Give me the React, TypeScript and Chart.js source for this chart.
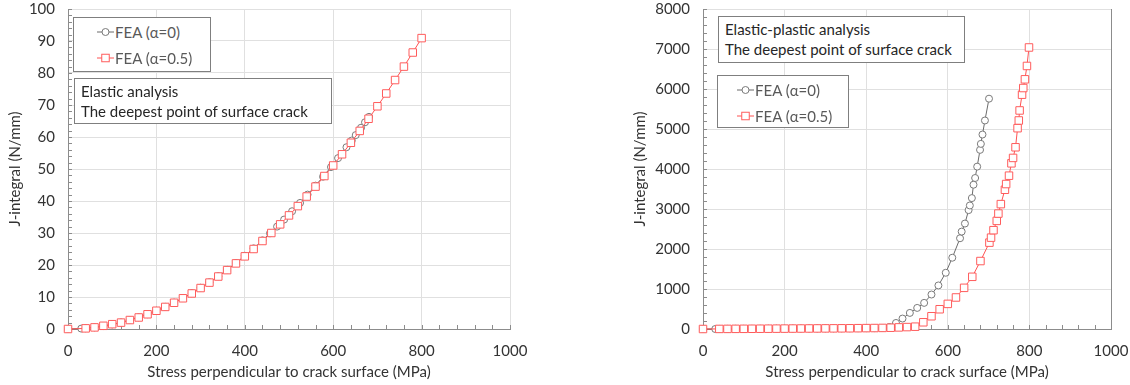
import React, { useEffect, useRef } from "react";
import { Chart, registerables } from "chart.js";

Chart.register(...registerables);

// ---------- Data ----------
// Left chart: Elastic analysis
const elasticA0Stress = [0, 30, 40, 60, 80, 100, 120, 140, 160, 180, 200, 220, 240, 260, 280, 300, 320, 340, 360, 380, 400, 420, 440, 457, 473, 489, 507, 525, 542, 560, 577, 595, 611, 630, 642, 651, 663, 672, 681];
const elasticA0J = [0, 0.13, 0.23, 0.51, 0.92, 1.43, 2.06, 2.8, 3.66, 4.63, 5.72, 6.92, 8.24, 9.67, 11.2, 12.9, 14.6, 16.5, 18.5, 20.6, 22.9, 25.2, 27.7, 29.9, 32.0, 34.2, 36.8, 39.4, 42.0, 44.8, 47.6, 50.6, 53.4, 56.8, 58.9, 60.6, 62.9, 64.6, 66.3];
const elasticA05Stress = [0, 40, 60, 80, 100, 120, 140, 160, 180, 200, 220, 240, 260, 280, 300, 320, 340, 360, 380, 400, 420, 440, 460, 480, 500, 520, 540, 560, 580, 600, 620, 640, 660, 680, 700, 720, 740, 760, 780, 800];
const elasticA05J = [0, 0.2, 0.5, 1.0, 1.5, 2.0, 2.8, 3.6, 4.6, 5.7, 6.9, 8.2, 9.6, 11.1, 12.8, 14.5, 16.4, 18.4, 20.5, 22.7, 25.0, 27.5, 30.0, 32.7, 35.5, 38.4, 41.4, 44.5, 47.8, 51.1, 54.6, 58.2, 61.9, 65.7, 69.6, 73.6, 77.8, 82.0, 86.4, 90.9];

// Right chart: Elastic-plastic analysis
const plasticA0Stress = [0, 30, 40, 60, 80, 100, 120, 140, 160, 180, 200, 220, 240, 260, 280, 300, 320, 340, 360, 380, 400, 420, 440, 457, 473, 489, 507, 525, 542, 560, 577, 595, 611, 630, 634, 642, 651, 654, 659, 663, 667, 672, 679, 681, 685, 691, 701];
const plasticA0J = [0, 0, 2, 3, 4, 5, 6, 7, 8, 9, 10, 11, 12, 13, 14, 15, 16, 17, 18, 19, 20, 22, 25, 50, 151, 261, 402, 527, 653, 862, 1089, 1406, 1782, 2269, 2435, 2636, 2972, 3088, 3273, 3607, 3775, 4059, 4478, 4628, 4862, 5213, 5758];
const plasticA05Stress = [0, 40, 60, 80, 100, 120, 140, 160, 180, 200, 220, 240, 260, 280, 300, 320, 340, 360, 380, 400, 420, 440, 460, 480, 500, 520, 540, 560, 580, 600, 620, 640, 660, 680, 702, 706, 712, 720, 724, 730, 740, 743, 750, 756, 760, 766, 771, 774, 776, 782, 785, 789, 794, 799];
const plasticA05J = [0, 2, 3, 4, 5, 6, 7, 8, 9, 10, 11, 12, 13, 14, 15, 16, 17, 18, 20, 22, 24, 27, 32, 40, 48, 58, 168, 319, 494, 628, 788, 1029, 1305, 1699, 2159, 2284, 2470, 2703, 2886, 3122, 3481, 3624, 3833, 4142, 4277, 4543, 5020, 5213, 5464, 5858, 6024, 6242, 6576, 7038];

const seriesLabels = ["FEA (α=0)", "FEA (α=0.5)"];
const xTitle = "Stress perpendicular to crack surface (MPa)";
const yTitle = "J-integral (N/mm)";
const elasticNote = ["Elastic analysis", "The deepest point of surface crack"];
const plasticNote = ["Elastic-plastic analysis", "The deepest point of surface crack"];

// ---------- Styles ----------
const FONT = "Lato, 'Open Sans', sans-serif";
const FS = 15;
const GRAY_LINE = "#6b6b6b";
const GRAY_PT = "#7a7a7a";
const RED_LINE = "#ff5252";
const RED_PT = "#ff5c5c";
const AXIS = "#8c8c8c";
const GRID = "#e0e0e0";
const TEXT = "#333333";

const zip = (xs: number[], ys: number[]) => xs.map((x, i) => ({ x, y: ys[i] }));

const minorTicks = {
  id: "minorTicks",
  beforeDatasetsDraw(chart: any, _a: any, opts: any) {
    const { ctx, chartArea, scales } = chart;
    const xs = scales.x;
    const ys = scales.y;
    ctx.save();
    ctx.strokeStyle = AXIS;
    ctx.lineWidth = 1;
    ctx.beginPath();
    for (let v = xs.min; v <= xs.max + 1e-9; v += opts.xStep) {
      const px = Math.round(xs.getPixelForValue(v)) + 0.5;
      ctx.moveTo(px, chartArea.bottom);
      ctx.lineTo(px, chartArea.bottom - 4);
    }
    for (let v = ys.min; v <= ys.max + 1e-9; v += opts.yStep) {
      const py = Math.round(ys.getPixelForValue(v)) + 0.5;
      ctx.moveTo(chartArea.left, py);
      ctx.lineTo(chartArea.left + 4, py);
    }
    if (opts.rightBorder) {
      const rx = Math.round(chartArea.right) + 0.5;
      ctx.moveTo(rx, chartArea.top);
      ctx.lineTo(rx, chartArea.bottom);
    }
    ctx.stroke();
    ctx.restore();
  },
};

function makeConfig(
  a0: { x: number; y: number }[],
  a05: { x: number; y: number }[],
  yMax: number,
  yStep: number,
  yMinor: number,
  yWidth: number,
  padLeft: number,
  padRight: number,
  rightBorder: boolean
): any {
  return {
    type: "line",
    data: {
      datasets: [
        {
          label: seriesLabels[1],
          data: a05,
          borderColor: RED_LINE,
          borderWidth: 1,
          pointStyle: "rect",
          pointRadius: 5.3,
          pointBorderColor: RED_PT,
          pointBackgroundColor: "#ffffff",
          pointBorderWidth: 1,
          clip: false,
          order: 0,
        },
        {
          label: seriesLabels[0],
          data: a0,
          borderColor: GRAY_LINE,
          borderWidth: 1,
          pointStyle: "circle",
          pointRadius: 3.5,
          pointBorderColor: GRAY_PT,
          pointBackgroundColor: "#ffffff",
          pointBorderWidth: 1,
          clip: false,
          order: 1,
        },
      ],
    },
    options: {
      responsive: false,
      animation: false,
      layout: { padding: { left: padLeft, right: padRight, top: 9, bottom: 0 } },
      plugins: {
        legend: { display: false },
        tooltip: { enabled: false },
        minorTicks: { xStep: 40, yStep: yMinor, rightBorder },
      },
      scales: {
        x: {
          type: "linear",
          min: 0,
          max: 1000,
          ticks: {
            stepSize: 200,
            padding: 13,
            color: TEXT,
            font: { family: FONT, size: FS },
            callback: (v: any) => String(v),
          },
          grid: { color: GRID, drawTicks: false },
          border: { color: AXIS },
          title: {
            display: true,
            text: xTitle,
            color: TEXT,
            font: { family: FONT, size: FS },
            padding: { top: 0, bottom: 4 },
          },
          afterFit: (s: any) => {
            s.height = 56;
            s.paddingLeft = 0;
            s.paddingRight = 0;
          },
        },
        y: {
          type: "linear",
          min: 0,
          max: yMax,
          ticks: {
            stepSize: yStep,
            padding: 13,
            color: TEXT,
            font: { family: FONT, size: FS },
            callback: (v: any) => String(v),
          },
          grid: { color: GRID, drawTicks: false },
          border: { color: AXIS },
          title: {
            display: true,
            text: yTitle,
            color: TEXT,
            font: { family: FONT, size: FS },
            padding: { top: 6, bottom: 0 },
          },
          afterFit: (s: any) => {
            s.width = yWidth;
            s.paddingTop = 0;
            s.paddingBottom = 0;
          },
        },
      },
    },
    plugins: [minorTicks],
  };
}

function Marker({ kind }: { kind: "circle" | "rect" }) {
  return (
    <svg width={17} height={12} style={{ display: "block" }}>
      <line x1={0} y1={6} x2={17} y2={6} stroke={kind === "circle" ? GRAY_LINE : RED_LINE} strokeWidth={1} />
      {kind === "circle" ? (
        <circle cx={8.5} cy={6} r={3.5} fill="#fff" stroke={GRAY_PT} strokeWidth={1} />
      ) : (
        <rect x={4.75} y={2.25} width={7.5} height={7.5} fill="#fff" stroke={RED_PT} strokeWidth={1} />
      )}
    </svg>
  );
}

function LegendBox({ left, top, width, height, markerLeft }: any) {
  const row = (kind: "circle" | "rect", label: string, cy: number) => (
    <div style={{ position: "absolute", left: markerLeft, top: cy - 10, height: 20, display: "flex", alignItems: "center" }}>
      <Marker kind={kind} />
      <span style={{ marginLeft: 1, color: "#595959", fontFamily: FONT, fontSize: FS, lineHeight: "20px", whiteSpace: "nowrap" }}>{label}</span>
    </div>
  );
  return (
    <div style={{ position: "absolute", left, top, width, height, border: "1px solid #7f7f7f", background: "#fff", boxSizing: "border-box" }}>
      {row("circle", seriesLabels[0], 14)}
      {row("rect", seriesLabels[1], 40)}
    </div>
  );
}

function NoteBox({ left, top, width, height, lines }: any) {
  return (
    <div
      style={{
        position: "absolute",
        left,
        top,
        width,
        height,
        border: "1px solid #7f7f7f",
        background: "#fff",
        boxSizing: "border-box",
        padding: "3px 0 0 6px",
        fontFamily: FONT,
        fontSize: FS,
        lineHeight: "19.5px",
        color: "#262626",
        whiteSpace: "nowrap",
      }}
    >
      {lines.map((l: string, i: number) => (
        <div key={i}>{l}</div>
      ))}
    </div>
  );
}

export default function App() {
  const leftRef = useRef<HTMLCanvasElement>(null);
  const rightRef = useRef<HTMLCanvasElement>(null);

  useEffect(() => {
    const c1 = new Chart(
      leftRef.current as HTMLCanvasElement,
      makeConfig(zip(elasticA0Stress, elasticA0J), zip(elasticA05Stress, elasticA05J), 100, 10, 2, 68, 0, 20, false)
    );
    const c2 = new Chart(
      rightRef.current as HTMLCanvasElement,
      makeConfig(zip(plasticA0Stress, plasticA0J), zip(plasticA05Stress, plasticA05J), 8000, 1000, 200, 78, 25, 19, true)
    );
    return () => {
      c1.destroy();
      c2.destroy();
    };
  }, []);

  return (
    <div style={{ position: "fixed", left: 0, top: 0, width: 1130, height: 385, background: "#fff", overflow: "hidden" }}>
      <canvas ref={leftRef} width={530} height={385} style={{ position: "absolute", left: 0, top: 0, width: 530, height: 385 }} />
      <canvas ref={rightRef} width={530} height={385} style={{ position: "absolute", left: 600, top: 0, width: 530, height: 385 }} />
      <LegendBox left={73} top={17} width={138} height={55} markerLeft={23} />
      <NoteBox left={74} top={78} width={258} height={46} lines={elasticNote} />
      <NoteBox left={718} top={16} width={247} height={47} lines={plasticNote} />
      <LegendBox left={717} top={75} width={132} height={53} markerLeft={19} />
    </div>
  );
}
